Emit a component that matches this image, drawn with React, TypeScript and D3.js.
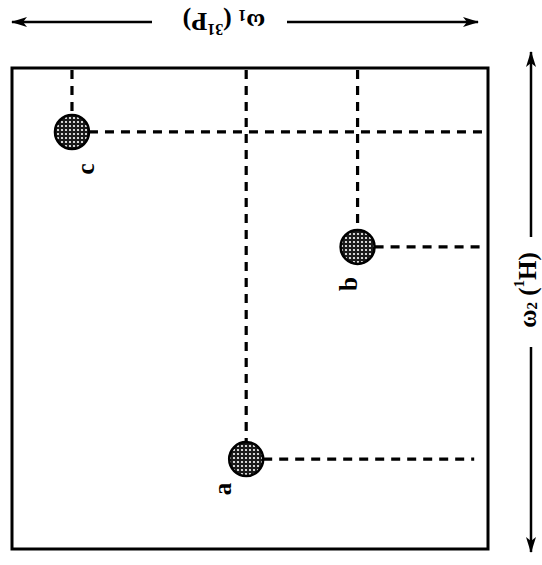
import React from "react";
import * as d3 from "d3";

const peakLabels = ["a", "b", "c"];
const omega1 = [49.2, 72.6, 12.6];
const omega2 = [81.3, 37.2, 13.3];
const lineEnd = [97.1, 98.9, 99.6];

const W = 542, H = 565;
const frame = { left: 12, right: 488, top: 68, bottom: 549 };
const labelOffsets = [[-24, 30], [-9, 37], [14, 37]];

export default function App() {
  const x = d3.scaleLinear().domain([0, 100]).range([frame.left, frame.right]);
  const y = d3.scaleLinear().domain([0, 100]).range([frame.top, frame.bottom]);
  const r = 17;
  const dash = "9 7";
  const font = "'Liberation Serif', 'Times New Roman', serif";
  return (
    <svg width={W} height={H} style={{ position: "absolute", left: 0, top: 0 }}>
      <defs>
        <pattern id="dots" width="4" height="4" patternUnits="userSpaceOnUse">
          <rect width="4" height="4" fill="#1a1a1a" />
          <circle cx="2" cy="2" r="1.1" fill="#fff" />
        </pattern>
        <marker id="ah" viewBox="0 0 16 10" refX="15" refY="5" markerWidth="16" markerHeight="10" orient="auto-start-reverse" markerUnits="userSpaceOnUse">
          <path d="M0,0 L16,5 L0,10 L4,5 Z" fill="#000" />
        </marker>
      </defs>
      <rect width={W} height={H} fill="#fff" />
      <rect x={frame.left} y={frame.top} width={frame.right - frame.left} height={frame.bottom - frame.top}
        fill="none" stroke="#000" strokeWidth={3} />
      {peakLabels.map((l, i) => (
        <g key={l}>
          <line x1={x(omega1[i])} x2={x(omega1[i])} y1={frame.top + 2} y2={y(omega2[i]) - r}
            stroke="#000" strokeWidth={3.2} strokeDasharray={dash} />
          <line x1={x(omega1[i]) + r} x2={x(lineEnd[i])} y1={y(omega2[i])} y2={y(omega2[i])}
            stroke="#000" strokeWidth={3.2} strokeDasharray={dash} />
        </g>
      ))}
      {peakLabels.map((l, i) => (
        <g key={"p" + l}>
          <circle cx={x(omega1[i])} cy={y(omega2[i])} r={r} fill="url(#dots)" stroke="#000" strokeWidth={2.5} />
          <text x={0} y={0} fontFamily={font} fontWeight="bold" fontSize={25} textAnchor="middle" dominantBaseline="central"
            transform={`translate(${x(omega1[i]) + labelOffsets[i][0]},${y(omega2[i]) + labelOffsets[i][1]}) rotate(-90)`}>
            {l}
          </text>
        </g>
      ))}
      <line x1={12} x2={152} y1={22} y2={22} stroke="#000" strokeWidth={2.5} markerStart="url(#ah)" />
      <line x1={287} x2={478} y1={22} y2={22} stroke="#000" strokeWidth={2.5} markerEnd="url(#ah)" />
      <text x={0} y={0} fontFamily={font} fontWeight="bold" fontSize={26} textAnchor="middle" dominantBaseline="central"
        transform="translate(224,22) rotate(180)">
        ω<tspan fontSize={16} dy={6}>1</tspan><tspan dy={-6}> (</tspan><tspan fontSize={16} dy={-8}>31</tspan><tspan dy={8}>P)</tspan>
      </text>
      <line x1={531} x2={531} y1={237} y2={52} stroke="#000" strokeWidth={2.5} markerEnd="url(#ah)" />
      <line x1={531} x2={531} y1={347} y2={552} stroke="#000" strokeWidth={2.5} markerEnd="url(#ah)" />
      <text x={0} y={0} fontFamily={font} fontWeight="bold" fontSize={25} textAnchor="middle" dominantBaseline="central"
        transform="translate(527,290) rotate(-90)">
        ω<tspan fontSize={15} dy={5}>2</tspan><tspan dy={-5}> (</tspan><tspan fontSize={15} dy={-8}>1</tspan><tspan dy={8}>H)</tspan>
      </text>
    </svg>
  );
}
